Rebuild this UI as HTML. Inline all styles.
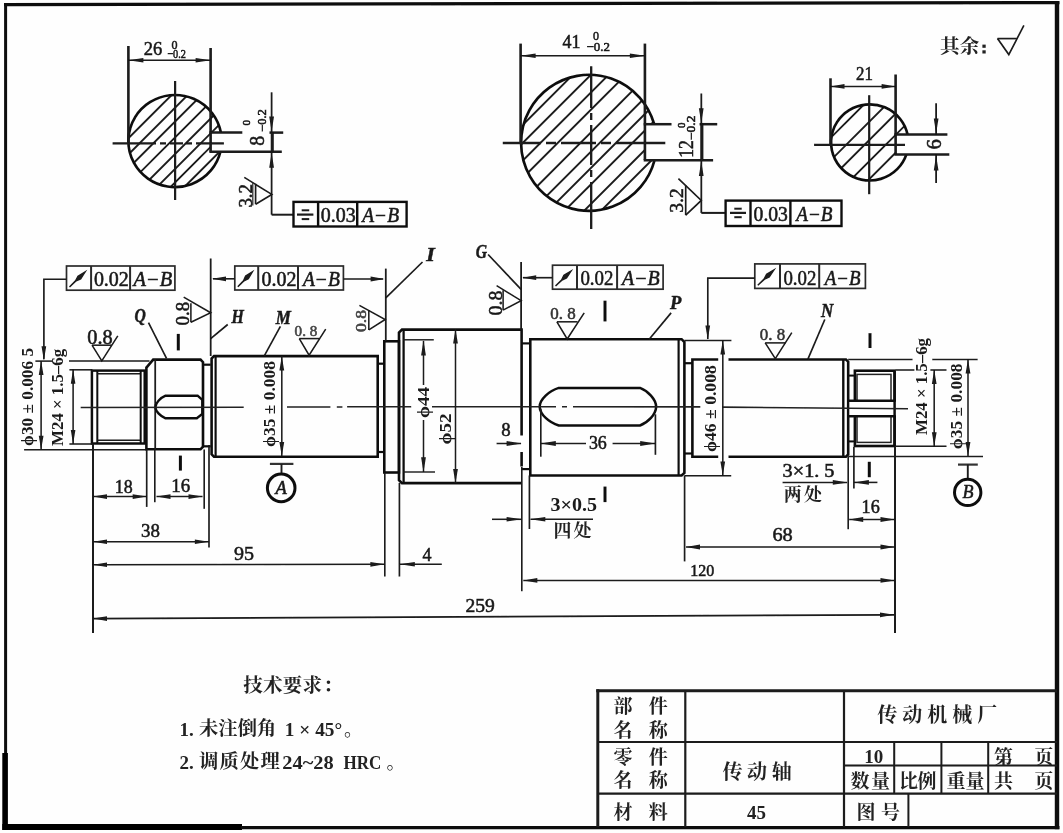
<!DOCTYPE html>
<html><head><meta charset="utf-8"><title>drawing</title>
<style>html,body{margin:0;padding:0;background:#fff;overflow:hidden;}svg{display:block;position:absolute;left:0;top:0;}text{font-family:"Liberation Serif",serif;}text.cj{font-family:"Liberation Serif","Noto Serif CJK SC",serif;font-weight:bold;}</style></head>
<body>
<svg width="1063" height="833" viewBox="0 0 1063 833">
<defs>
<filter id="bl" x="-2%" y="-2%" width="104%" height="104%"><feGaussianBlur stdDeviation="0.55"/></filter>
</defs>
<rect width="1063" height="833" fill="#fefefe"/>
<g id="all" filter="url(#bl)">
<line x1="4.0" y1="4.6" x2="1059.5" y2="2.6" stroke="#111" stroke-width="3.2" />
<line x1="5.6" y1="3.0" x2="5.6" y2="754.0" stroke="#111" stroke-width="3.0" />
<line x1="5.1" y1="753.0" x2="5.1" y2="830.0" stroke="#000" stroke-width="5.6" />
<line x1="2.3" y1="827.0" x2="242.0" y2="827.0" stroke="#000" stroke-width="6" />
<line x1="241.0" y1="827.6" x2="1059.5" y2="827.6" stroke="#111" stroke-width="3.4" />
<line x1="1057.0" y1="1.5" x2="1057.0" y2="829.3" stroke="#111" stroke-width="4.4" />
<line x1="596.3" y1="690.7" x2="1057.0" y2="690.7" stroke="#1c1c1c" stroke-width="3" />
<line x1="597.8" y1="689.2" x2="597.8" y2="827.0" stroke="#1c1c1c" stroke-width="3" />
<line x1="597.8" y1="742.0" x2="1057.0" y2="742.0" stroke="#1c1c1c" stroke-width="2.2" />
<line x1="597.8" y1="793.7" x2="1057.0" y2="793.7" stroke="#1c1c1c" stroke-width="2.2" />
<line x1="844.0" y1="765.5" x2="1057.0" y2="765.5" stroke="#1c1c1c" stroke-width="2" />
<line x1="685.3" y1="690.7" x2="685.3" y2="827.0" stroke="#1c1c1c" stroke-width="2.2" />
<line x1="844.0" y1="690.7" x2="844.0" y2="827.0" stroke="#1c1c1c" stroke-width="2.2" />
<line x1="894.2" y1="742.0" x2="894.2" y2="793.7" stroke="#1c1c1c" stroke-width="2" />
<line x1="941.4" y1="742.0" x2="941.4" y2="793.7" stroke="#1c1c1c" stroke-width="2" />
<line x1="988.2" y1="742.0" x2="988.2" y2="793.7" stroke="#1c1c1c" stroke-width="2" />
<line x1="908.4" y1="793.7" x2="908.4" y2="827.0" stroke="#1c1c1c" stroke-width="2" />
<text class="cj" x="613.5" y="712.62" font-size="19" fill="#222">部</text>
<text class="cj" x="648.8" y="712.62" font-size="19" fill="#222">件</text>
<text class="cj" x="613.5" y="736.62" font-size="19" fill="#222">名</text>
<text class="cj" x="648.8" y="736.62" font-size="19" fill="#222">称</text>
<text class="cj" x="613.5" y="764.02" font-size="19" fill="#222">零</text>
<text class="cj" x="648.8" y="764.02" font-size="19" fill="#222">件</text>
<text class="cj" x="613.5" y="787.42" font-size="19" fill="#222">名</text>
<text class="cj" x="648.8" y="787.42" font-size="19" fill="#222">称</text>
<text class="cj" x="613.5" y="819.22" font-size="19" fill="#222">材</text>
<text class="cj" x="648.8" y="819.22" font-size="19" fill="#222">料</text>
<text class="cj" x="722.5" y="778.5" font-size="20" fill="#222">传</text>
<text class="cj" x="747.1" y="778.5" font-size="20" fill="#222">动</text>
<text class="cj" x="771.7" y="778.5" font-size="20" fill="#222">轴</text>
<text x="756.4" y="818.5" text-anchor="middle" style="font-family:'Liberation Serif',serif;font-size:19px;font-weight:bold;" fill="#222" >45</text>
<text class="cj" x="877.3" y="722" font-size="20" fill="#222">传</text>
<text class="cj" x="902.3" y="722" font-size="20" fill="#222">动</text>
<text class="cj" x="927.3" y="722" font-size="20" fill="#222">机</text>
<text class="cj" x="952.3" y="722" font-size="20" fill="#222">械</text>
<text class="cj" x="977.3" y="722" font-size="20" fill="#222">厂</text>
<text x="873.8" y="763.0" text-anchor="middle" style="font-family:'Liberation Serif',serif;font-size:19px;font-weight:bold;" fill="#222" >10</text>
<text class="cj" x="850.5" y="788.02" font-size="19" fill="#222">数</text>
<text class="cj" x="871" y="788.02" font-size="19" fill="#222">量</text>
<text class="cj" x="899" y="788.02" font-size="19" fill="#222">比</text>
<text class="cj" x="917.6" y="788.02" font-size="19" fill="#222">例</text>
<text class="cj" x="946.5" y="788.02" font-size="19" fill="#222">重</text>
<text class="cj" x="965.6" y="788.02" font-size="19" fill="#222">量</text>
<text class="cj" x="994.1" y="764.02" font-size="19" fill="#222">第</text>
<text class="cj" x="1034.3" y="764.02" font-size="19" fill="#222">页</text>
<text class="cj" x="994.1" y="788.02" font-size="19" fill="#222">共</text>
<text class="cj" x="1034.3" y="788.02" font-size="19" fill="#222">页</text>
<text class="cj" x="856.5" y="819.22" font-size="19" fill="#222">图</text>
<text class="cj" x="880.9" y="819.22" font-size="19" fill="#222">号</text>
<text class="cj" x="243.2" y="692.41" font-size="19.5" fill="#222">技</text>
<text class="cj" x="262.97" y="692.41" font-size="19.5" fill="#222">术</text>
<text class="cj" x="282.73" y="692.41" font-size="19.5" fill="#222">要</text>
<text class="cj" x="302.5" y="692.41" font-size="19.5" fill="#222">求</text>
<text class="cj" x="323.25" y="692.41" font-size="19.5" fill="#222">：</text>
<text x="179.6" y="735.5" text-anchor="start" style="font-family:'Liberation Serif',serif;font-size:19px;font-weight:bold;" fill="#222" >1.</text>
<text class="cj" x="199.1" y="735.33" font-size="19.3" fill="#222">未</text>
<text class="cj" x="218.37" y="735.33" font-size="19.3" fill="#222">注</text>
<text class="cj" x="237.63" y="735.33" font-size="19.3" fill="#222">倒</text>
<text class="cj" x="256.9" y="735.33" font-size="19.3" fill="#222">角</text>
<text x="284.8" y="735.5" text-anchor="start" style="font-family:'Liberation Serif',serif;font-size:19px;font-weight:bold;" fill="#222" textLength="57.4" lengthAdjust="spacingAndGlyphs" >1 × 45°</text>
<text class="cj" x="344" y="735.72" font-size="19" fill="#222">。</text>
<text x="179.6" y="768.5" text-anchor="start" style="font-family:'Liberation Serif',serif;font-size:19px;font-weight:bold;" fill="#222" >2.</text>
<text class="cj" x="199.1" y="768.33" font-size="19.3" fill="#222">调</text>
<text class="cj" x="219.6" y="768.33" font-size="19.3" fill="#222">质</text>
<text class="cj" x="240.1" y="768.33" font-size="19.3" fill="#222">处</text>
<text class="cj" x="260.6" y="768.33" font-size="19.3" fill="#222">理</text>
<text x="282.3" y="768.5" text-anchor="start" style="font-family:'Liberation Serif',serif;font-size:19px;font-weight:bold;" fill="#222" textLength="51.4" lengthAdjust="spacingAndGlyphs" >24~28</text>
<text x="343.5" y="768.5" text-anchor="start" style="font-family:'Liberation Serif',serif;font-size:19px;font-weight:bold;" fill="#222" textLength="37.9" lengthAdjust="spacingAndGlyphs" >HRC</text>
<text class="cj" x="386.5" y="768.72" font-size="19" fill="#222">。</text>
<text class="cj" x="940.05" y="52.61" font-size="19.5" fill="#222">其</text>
<text class="cj" x="959.85" y="52.61" font-size="19.5" fill="#222">余</text>
<rect x="982.4" y="44.6" width="3.3" height="3.2" fill="#222"/><rect x="982.4" y="50.3" width="3.3" height="3.2" fill="#222"/>
<path d="M997.5,38.6 L1008.8,54.6 L1023.9,25.4" fill="none" stroke="#1a1a1a" stroke-width="1.65" stroke-linejoin="miter" />
<line x1="997.5" y1="38.6" x2="1017.1" y2="38.6" stroke="#1a1a1a" stroke-width="1.65" />
<clipPath id="c1"><path d="M220.9,132.6 A46.65,46.05 0 1 0 220.4,151.8 L210.6,151.8 L210.6,132.6 Z"/></clipPath>
<g clip-path="url(#c1)">
<line x1="176.8" y1="89.9" x2="74.8" y2="191.9" stroke="#1a1a1a" stroke-width="1.89" />
<line x1="192.9" y1="89.9" x2="90.9" y2="191.9" stroke="#1a1a1a" stroke-width="1.89" />
<line x1="206.8" y1="89.9" x2="104.7" y2="191.9" stroke="#1a1a1a" stroke-width="1.89" />
<line x1="222.6" y1="89.9" x2="120.6" y2="191.9" stroke="#1a1a1a" stroke-width="1.89" />
<line x1="239.2" y1="89.9" x2="137.2" y2="191.9" stroke="#1a1a1a" stroke-width="1.89" />
<line x1="254.1" y1="89.9" x2="152.1" y2="191.9" stroke="#1a1a1a" stroke-width="1.89" />
<line x1="267.6" y1="89.9" x2="165.6" y2="191.9" stroke="#1a1a1a" stroke-width="1.89" />
<line x1="281.5" y1="89.9" x2="179.4" y2="191.9" stroke="#1a1a1a" stroke-width="1.89" />
</g>
<path d="M220.9,132.6 A46.65,46.05 0 1 0 220.4,151.8" fill="none" stroke="#111" stroke-width="2.7" />
<line x1="128.4" y1="46.0" x2="128.4" y2="142.0" stroke="#1a1a1a" stroke-width="2.6" />
<line x1="210.6" y1="48.0" x2="210.6" y2="151.8" stroke="#1a1a1a" stroke-width="2.6" />
<line x1="128.4" y1="60.2" x2="210.6" y2="60.2" stroke="#1a1a1a" stroke-width="1.53" />
<path d="M128.4,60.2 L143.4,57.9 L143.4,62.6 Z" fill="#1a1a1a"/>
<path d="M210.6,60.2 L195.6,62.6 L195.6,57.9 Z" fill="#1a1a1a"/>
<text x="143.7" y="55.4" text-anchor="start" style="font-family:'Liberation Serif',serif;font-size:19px;" fill="#1a1a1a" textLength="18.5" lengthAdjust="spacingAndGlyphs"  stroke="#1a1a1a" stroke-width="0.55">26</text>
<text x="171.4" y="49.0" text-anchor="start" style="font-family:'Liberation Serif',serif;font-size:12.5px;" fill="#1a1a1a" textLength="6.0" lengthAdjust="spacingAndGlyphs"  stroke="#1a1a1a" stroke-width="0.55">0</text>
<text x="167.3" y="58.4" text-anchor="start" style="font-family:'Liberation Serif',serif;font-size:12.5px;" fill="#1a1a1a" textLength="18.6" lengthAdjust="spacingAndGlyphs"  stroke="#1a1a1a" stroke-width="0.55">−0.2</text>
<path d="M112.6,143.4 H156 M160,143.4 H166 M170,143.4 H183 M186,143.4 H192 M196,143.4 H223.9" stroke="#1a1a1a" stroke-width="2.3" fill="none"/>
<line x1="175.1" y1="81.0" x2="175.1" y2="200.0" stroke="#1a1a1a" stroke-width="2.2" />
<line x1="209.4" y1="132.6" x2="242.3" y2="132.6" stroke="#1a1a1a" stroke-width="2.5" />
<line x1="269.5" y1="132.6" x2="283.2" y2="132.6" stroke="#1a1a1a" stroke-width="2.5" />
<line x1="209.4" y1="151.8" x2="281.8" y2="151.8" stroke="#1a1a1a" stroke-width="2.5" />
<line x1="271.6" y1="92.3" x2="271.6" y2="214.7" stroke="#1a1a1a" stroke-width="1.77" />
<line x1="272.4" y1="132.6" x2="272.4" y2="151.8" stroke="#1a1a1a" stroke-width="2.8" />
<path d="M271.6,131.6 L269.2,116.6 L274.0,116.6 Z" fill="#1a1a1a"/>
<path d="M271.6,152.8 L274.0,167.8 L269.2,167.8 Z" fill="#1a1a1a"/>
<text transform="translate(264.3,140.8) rotate(-90)" text-anchor="middle" style="font-family:'Liberation Serif',serif;font-size:20px;" fill="#1a1a1a"  stroke="#1a1a1a" stroke-width="0.55">8</text>
<text transform="translate(250.4,122.7) rotate(-90)" text-anchor="middle" style="font-family:'Liberation Serif',serif;font-size:11px;" fill="#1a1a1a"  stroke="#1a1a1a" stroke-width="0.55">0</text>
<text transform="translate(266.2,120.5) rotate(-90)" text-anchor="middle" style="font-family:'Liberation Serif',serif;font-size:11.5px;" fill="#1a1a1a" textLength="22.6" lengthAdjust="spacingAndGlyphs"  stroke="#1a1a1a" stroke-width="0.55">−0.2</text>
<path d="M255.6,204.2 L271.8,194.4 L244.3,177.4" fill="none" stroke="#1a1a1a" stroke-width="1.65" stroke-linejoin="miter" />
<line x1="255.6" y1="183.8" x2="255.6" y2="204.2" stroke="#1a1a1a" stroke-width="1.65" />
<line x1="252.8" y1="183.0" x2="252.8" y2="205.5" stroke="#333" stroke-width="1.3" />
<text transform="translate(251.6,195.8) rotate(-90)" text-anchor="middle" style="font-family:'Liberation Serif',serif;font-size:19px;" fill="#1a1a1a" textLength="23.5" lengthAdjust="spacingAndGlyphs"  stroke="#1a1a1a" stroke-width="0.55">3.2</text>
<line x1="271.6" y1="214.7" x2="293.5" y2="214.7" stroke="#1a1a1a" stroke-width="2.0" />
<rect x="293.5" y="201.9" width="113.1" height="24.6" fill="none" stroke="#111" stroke-width="2.4"/>
<line x1="318.1" y1="201.9" x2="318.1" y2="226.5" stroke="#111" stroke-width="2.4" />
<line x1="357.2" y1="201.9" x2="357.2" y2="226.5" stroke="#111" stroke-width="2.4" />
<line x1="297.0" y1="214.6" x2="313.4" y2="214.6" stroke="#1a1a1a" stroke-width="2.2" />
<line x1="301.7" y1="210.3" x2="309.2" y2="210.3" stroke="#1a1a1a" stroke-width="2" />
<line x1="301.7" y1="219.1" x2="309.2" y2="219.1" stroke="#1a1a1a" stroke-width="2" />
<text x="320.8" y="221.7" text-anchor="start" style="font-family:'Liberation Serif',serif;font-size:20px;" fill="#1a1a1a" textLength="34.9" lengthAdjust="spacingAndGlyphs"  stroke="#1a1a1a" stroke-width="0.55">0.03</text>
<text x="362.3" y="221.7" text-anchor="start" style="font-family:'Liberation Serif',serif;font-size:20px;font-style:italic;" fill="#1a1a1a" textLength="36.7" lengthAdjust="spacingAndGlyphs"  stroke="#1a1a1a" stroke-width="0.55">A−B</text>
<clipPath id="c2"><path d="M654.2,124.2 A67.85,68.05 0 1 0 654.6,160.0 L644.9,160.0 L644.9,124.2 Z"/></clipPath>
<g clip-path="url(#c2)">
<line x1="577.9" y1="69.7" x2="431.8" y2="215.8" stroke="#1a1a1a" stroke-width="1.89" />
<line x1="596.0" y1="69.7" x2="449.9" y2="215.8" stroke="#1a1a1a" stroke-width="1.89" />
<line x1="613.7" y1="69.7" x2="467.6" y2="215.8" stroke="#1a1a1a" stroke-width="1.89" />
<line x1="631.0" y1="69.7" x2="484.9" y2="215.8" stroke="#1a1a1a" stroke-width="1.89" />
<line x1="653.6" y1="69.7" x2="507.5" y2="215.8" stroke="#1a1a1a" stroke-width="1.89" />
<line x1="672.9" y1="69.7" x2="526.8" y2="215.8" stroke="#1a1a1a" stroke-width="1.89" />
<line x1="689.2" y1="69.7" x2="543.1" y2="215.8" stroke="#1a1a1a" stroke-width="1.89" />
<line x1="705.6" y1="69.7" x2="559.5" y2="215.8" stroke="#1a1a1a" stroke-width="1.89" />
<line x1="725.2" y1="69.7" x2="579.1" y2="215.8" stroke="#1a1a1a" stroke-width="1.89" />
<line x1="742.1" y1="69.7" x2="596.0" y2="215.8" stroke="#1a1a1a" stroke-width="1.89" />
</g>
<path d="M654.2,124.2 A67.85,68.05 0 1 0 654.6,160.0" fill="none" stroke="#111" stroke-width="2.7" />
<line x1="520.6" y1="43.6" x2="520.6" y2="143.5" stroke="#1a1a1a" stroke-width="2.6" />
<line x1="644.9" y1="43.6" x2="644.9" y2="160.0" stroke="#1a1a1a" stroke-width="2.6" />
<line x1="520.6" y1="55.8" x2="644.9" y2="55.8" stroke="#1a1a1a" stroke-width="1.53" />
<path d="M520.6,55.8 L535.6,53.4 L535.6,58.1 Z" fill="#1a1a1a"/>
<path d="M644.9,55.8 L629.9,58.1 L629.9,53.4 Z" fill="#1a1a1a"/>
<text x="562.6" y="48.3" text-anchor="start" style="font-family:'Liberation Serif',serif;font-size:19px;" fill="#1a1a1a" textLength="17.9" lengthAdjust="spacingAndGlyphs"  stroke="#1a1a1a" stroke-width="0.55">41</text>
<text x="593.0" y="40.3" text-anchor="start" style="font-family:'Liberation Serif',serif;font-size:13px;" fill="#1a1a1a" textLength="6.0" lengthAdjust="spacingAndGlyphs"  stroke="#1a1a1a" stroke-width="0.55">0</text>
<text x="586.6" y="51.2" text-anchor="start" style="font-family:'Liberation Serif',serif;font-size:13px;" fill="#1a1a1a" textLength="23.4" lengthAdjust="spacingAndGlyphs"  stroke="#1a1a1a" stroke-width="0.55">−0.2</text>
<path d="M502.8,143 H541 M546,143 H556 M561,143 H596 M601,143 H611 M616,143 H665.3" stroke="#1a1a1a" stroke-width="2.3" fill="none"/>
<path d="M591.2,66.2 V108 M591.2,113 V120 M591.2,125 V165 M591.2,170 V177 M591.2,182 V229.1" stroke="#1a1a1a" stroke-width="2.3" fill="none"/>
<line x1="643.7" y1="124.2" x2="671.5" y2="124.2" stroke="#1a1a1a" stroke-width="2.5" />
<line x1="699.6" y1="124.2" x2="717.2" y2="124.2" stroke="#1a1a1a" stroke-width="2.5" />
<line x1="643.7" y1="160.3" x2="713.1" y2="160.3" stroke="#1a1a1a" stroke-width="2.5" />
<line x1="701.3" y1="93.5" x2="701.3" y2="212.9" stroke="#1a1a1a" stroke-width="1.77" />
<line x1="702.0" y1="124.2" x2="702.0" y2="160.0" stroke="#1a1a1a" stroke-width="2.8" />
<path d="M701.3,123.2 L698.9,108.2 L703.6,108.2 Z" fill="#1a1a1a"/>
<path d="M701.3,161.0 L703.6,176.0 L698.9,176.0 Z" fill="#1a1a1a"/>
<text transform="translate(693.4,149.0) rotate(-90)" text-anchor="middle" style="font-family:'Liberation Serif',serif;font-size:20px;" fill="#1a1a1a" textLength="17.7" lengthAdjust="spacingAndGlyphs"  stroke="#1a1a1a" stroke-width="0.55">12</text>
<text transform="translate(684.6,125.2) rotate(-90)" text-anchor="middle" style="font-family:'Liberation Serif',serif;font-size:11px;" fill="#1a1a1a"  stroke="#1a1a1a" stroke-width="0.55">0</text>
<text transform="translate(694.6,127.8) rotate(-90)" text-anchor="middle" style="font-family:'Liberation Serif',serif;font-size:11.5px;" fill="#1a1a1a" textLength="24.6" lengthAdjust="spacingAndGlyphs"  stroke="#1a1a1a" stroke-width="0.55">−0.2</text>
<path d="M685.7,215.2 L701.3,200.4 L678.4,178.6" fill="none" stroke="#1a1a1a" stroke-width="1.65" stroke-linejoin="miter" />
<line x1="685.7" y1="185.5" x2="685.7" y2="215.2" stroke="#1a1a1a" stroke-width="1.65" />
<text transform="translate(682.8,200.5) rotate(-90)" text-anchor="middle" style="font-family:'Liberation Serif',serif;font-size:19px;" fill="#1a1a1a" textLength="24.5" lengthAdjust="spacingAndGlyphs"  stroke="#1a1a1a" stroke-width="0.55">3.2</text>
<line x1="701.3" y1="212.9" x2="725.6" y2="212.9" stroke="#1a1a1a" stroke-width="2.0" />
<rect x="725.6" y="200.6" width="115.9" height="25.4" fill="none" stroke="#111" stroke-width="2.4"/>
<line x1="750.5" y1="200.6" x2="750.5" y2="226.0" stroke="#111" stroke-width="2.4" />
<line x1="790.4" y1="200.6" x2="790.4" y2="226.0" stroke="#111" stroke-width="2.4" />
<line x1="730.0" y1="212.9" x2="746.0" y2="212.9" stroke="#1a1a1a" stroke-width="2.2" />
<line x1="734.3" y1="208.7" x2="741.7" y2="208.7" stroke="#1a1a1a" stroke-width="2" />
<line x1="734.3" y1="217.2" x2="741.7" y2="217.2" stroke="#1a1a1a" stroke-width="2" />
<text x="753.6" y="221.2" text-anchor="start" style="font-family:'Liberation Serif',serif;font-size:20px;" fill="#1a1a1a" textLength="34.3" lengthAdjust="spacingAndGlyphs"  stroke="#1a1a1a" stroke-width="0.55">0.03</text>
<text x="796.2" y="221.2" text-anchor="start" style="font-family:'Liberation Serif',serif;font-size:20px;font-style:italic;" fill="#1a1a1a" textLength="36.3" lengthAdjust="spacingAndGlyphs"  stroke="#1a1a1a" stroke-width="0.55">A−B</text>
<clipPath id="c3"><path d="M907.5,134.4 A38.65,38.05 0 1 0 906.4,154.4 L895.6,154.4 L895.6,134.4 Z"/></clipPath>
<g clip-path="url(#c3)">
<line x1="869.2" y1="99.3" x2="783.1" y2="185.4" stroke="#1a1a1a" stroke-width="1.89" />
<line x1="891.7" y1="99.3" x2="805.6" y2="185.4" stroke="#1a1a1a" stroke-width="1.89" />
<line x1="910.0" y1="99.3" x2="823.9" y2="185.4" stroke="#1a1a1a" stroke-width="1.89" />
<line x1="931.2" y1="99.3" x2="845.1" y2="185.4" stroke="#1a1a1a" stroke-width="1.89" />
<line x1="949.1" y1="99.3" x2="863.0" y2="185.4" stroke="#1a1a1a" stroke-width="1.89" />
</g>
<path d="M907.5,134.4 A38.65,38.05 0 1 0 906.4,154.4" fill="none" stroke="#111" stroke-width="2.7" />
<line x1="830.5" y1="78.3" x2="830.5" y2="144.5" stroke="#1a1a1a" stroke-width="2.6" />
<line x1="895.6" y1="74.5" x2="895.6" y2="154.4" stroke="#1a1a1a" stroke-width="2.6" />
<line x1="830.5" y1="86.4" x2="895.6" y2="86.4" stroke="#1a1a1a" stroke-width="1.53" />
<path d="M830.5,86.4 L844.5,84.1 L844.5,88.8 Z" fill="#1a1a1a"/>
<path d="M895.6,86.4 L881.6,88.8 L881.6,84.1 Z" fill="#1a1a1a"/>
<text x="856.0" y="80.2" text-anchor="start" style="font-family:'Liberation Serif',serif;font-size:19px;" fill="#1a1a1a" textLength="16.9" lengthAdjust="spacingAndGlyphs"  stroke="#1a1a1a" stroke-width="0.55">21</text>
<line x1="814.1" y1="144.8" x2="905.0" y2="144.8" stroke="#1a1a1a" stroke-width="2.3" />
<line x1="869.2" y1="95.2" x2="869.2" y2="194.2" stroke="#1a1a1a" stroke-width="2.2" />
<line x1="894.4" y1="134.4" x2="947.4" y2="134.4" stroke="#1a1a1a" stroke-width="2.5" />
<line x1="894.4" y1="154.4" x2="949.3" y2="154.4" stroke="#1a1a1a" stroke-width="2.5" />
<line x1="936.1" y1="103.3" x2="936.1" y2="134.4" stroke="#1a1a1a" stroke-width="1.77" />
<line x1="936.1" y1="154.4" x2="936.1" y2="182.9" stroke="#1a1a1a" stroke-width="1.77" />
<path d="M936.1,133.4 L933.8,118.4 L938.5,118.4 Z" fill="#1a1a1a"/>
<path d="M936.1,155.4 L938.5,170.4 L933.8,170.4 Z" fill="#1a1a1a"/>
<text transform="translate(940.8,144.3) rotate(-90)" text-anchor="middle" style="font-family:'Liberation Serif',serif;font-size:20px;" fill="#1a1a1a"  stroke="#1a1a1a" stroke-width="0.55">6</text>
<rect x="91.9" y="370.6" width="52.8" height="72.9" fill="none" stroke="#111" stroke-width="2.5"/>
<line x1="97.3" y1="370.6" x2="97.3" y2="443.5" stroke="#111" stroke-width="2.0" />
<line x1="97.3" y1="373.8" x2="140.7" y2="373.8" stroke="#1a1a1a" stroke-width="1.53" />
<line x1="97.3" y1="440.2" x2="140.7" y2="440.2" stroke="#1a1a1a" stroke-width="1.53" />
<line x1="140.7" y1="370.6" x2="140.7" y2="443.5" stroke="#111" stroke-width="2.0" />
<path d="M146.4,367.6 L153.2,359.6 L200.5,359.6 L203.0,362.2 L203.0,446.7 L200.5,449.3 L146.4,449.3 Z" fill="none" stroke="#111" stroke-width="2.6" stroke-linejoin="miter" />
<line x1="155.2" y1="359.6" x2="155.2" y2="449.3" stroke="#1a1a1a" stroke-width="1.77" />
<path d="M165.6,395.7 L197.6,395.7 L202.3,399.8 L202.3,414 L196.8,418.3 L165.6,418.3 C160,416 155.6,411 155.3,407.3 C155.6,403 160,398 165.6,395.7 Z" fill="none" stroke="#111" stroke-width="2.4" />
<line x1="203.1" y1="364.7" x2="210.7" y2="364.7" stroke="#111" stroke-width="2.2" />
<line x1="203.1" y1="446.3" x2="210.7" y2="446.3" stroke="#111" stroke-width="2.2" />
<path d="M377.7,356.1 L214.0,356.1 L211.6,358.5 L211.6,454.3 L214.0,456.7 L377.7,456.7 Z" fill="none" stroke="#111" stroke-width="2.6" stroke-linejoin="miter" />
<line x1="215.6" y1="356.1" x2="215.6" y2="456.7" stroke="#111" stroke-width="2.2" />
<line x1="377.7" y1="363.7" x2="384.3" y2="363.7" stroke="#111" stroke-width="2.2" />
<line x1="377.7" y1="452.0" x2="384.3" y2="452.0" stroke="#111" stroke-width="2.2" />
<rect x="384.3" y="341.3" width="14.7" height="131.2" fill="none" stroke="#111" stroke-width="2.6"/>
<path d="M521.6,435.5 L521.6,329.6 L402.0,329.6 L399.0,332.6 L399.0,480.2 L402.0,483.1 L521.6,483.1" fill="none" stroke="#111" stroke-width="2.6" stroke-linejoin="miter" />
<line x1="403.6" y1="329.6" x2="403.6" y2="482.9" stroke="#111" stroke-width="2.3" />
<line x1="521.6" y1="452.0" x2="521.6" y2="466.5" stroke="#111" stroke-width="2.6" />
<line x1="521.6" y1="343.4" x2="530.3" y2="343.4" stroke="#111" stroke-width="2.2" />
<line x1="521.6" y1="469.1" x2="530.3" y2="469.1" stroke="#111" stroke-width="2.2" />
<path d="M530.3,339.2 L681.6,339.2 L684.4,342.0 L684.4,473.0 L681.6,475.5 L530.3,475.5 Z" fill="none" stroke="#111" stroke-width="2.6" stroke-linejoin="miter" />
<line x1="678.6" y1="339.2" x2="678.6" y2="475.5" stroke="#111" stroke-width="2.2" />
<path d="M558.8,387.9 L640,387.9 C648,391 655.8,399 656.2,406.7 C655.8,414.5 648,422.5 640,425.5 L558.8,425.5 C549,422.5 540,414.5 539.6,406.7 C540,399 549,391 558.8,387.9 Z" fill="none" stroke="#111" stroke-width="2.5" />
<line x1="684.4" y1="363.2" x2="692.4" y2="363.2" stroke="#111" stroke-width="2.2" />
<line x1="684.4" y1="453.5" x2="692.4" y2="453.5" stroke="#111" stroke-width="2.2" />
<path d="M718.2,359.5 H692.4 V456.7 H718.2 M728.5,359.5 H846 L848.2,361.7 V454.5 L846,456.7 H728.5" fill="none" stroke="#111" stroke-width="2.6" />
<line x1="843.3" y1="359.5" x2="843.3" y2="456.7" stroke="#111" stroke-width="2.4" />
<rect x="854.9" y="370.7" width="39.7" height="75.3" fill="none" stroke="#111" stroke-width="2.6"/>
<rect x="857" y="374.4" width="34" height="68" fill="none" stroke="#222" stroke-width="1.5"/>
<rect x="849.6" y="400.7" width="46.3" height="15.6" fill="#fefefe" stroke="none"/>
<line x1="848.6" y1="400.7" x2="895.9" y2="400.7" stroke="#111" stroke-width="2.5" />
<line x1="848.6" y1="416.3" x2="895.9" y2="416.3" stroke="#111" stroke-width="2.5" />
<line x1="894.6" y1="370.7" x2="894.6" y2="446.0" stroke="#111" stroke-width="2.5" />
<line x1="848.4" y1="375.6" x2="854.9" y2="375.6" stroke="#111" stroke-width="2" />
<line x1="848.4" y1="441.4" x2="854.9" y2="441.4" stroke="#111" stroke-width="2" />
<path d="M80.7,407.5 L243.7,407.2 M287,407 H330.4 M336.8,407 H342.4 M347.1,406.8 H411.2 M432,406.7 H556 M562,406.7 H567 M573,406.7 L700.3,406.9 M722,407.1 L908,408.8" stroke="#222" stroke-width="1.6" fill="none"/>
<rect x="66.5" y="266.0" width="108.4" height="24.2" fill="none" stroke="#2a2a2a" stroke-width="1.7"/>
<line x1="91.1" y1="266.0" x2="91.1" y2="290.2" stroke="#2a2a2a" stroke-width="2.01" />
<line x1="130.1" y1="266.0" x2="130.1" y2="290.2" stroke="#2a2a2a" stroke-width="2.01" />
<path d="M70.0,287.5 L76.4,281.6 L81.1,279.4 L87.3,269.8 L77.5,275.7 L75.1,280.3 L69.0,286.5 Z" fill="#1a1a1a"/>
<text x="93.9" y="286.4" text-anchor="start" style="font-family:'Liberation Serif',serif;font-size:20px;" fill="#1a1a1a" textLength="34.9" lengthAdjust="spacingAndGlyphs"  stroke="#1a1a1a" stroke-width="0.55">0.02</text>
<text x="133.5" y="286.4" text-anchor="start" style="font-family:'Liberation Serif',serif;font-size:20px;font-style:italic;" fill="#1a1a1a" textLength="38.6" lengthAdjust="spacingAndGlyphs"  stroke="#1a1a1a" stroke-width="0.55">A−B</text>
<rect x="234.8" y="266.0" width="108.6" height="24.0" fill="none" stroke="#2a2a2a" stroke-width="1.7"/>
<line x1="258.2" y1="266.0" x2="258.2" y2="290.0" stroke="#2a2a2a" stroke-width="2.01" />
<line x1="298.0" y1="266.0" x2="298.0" y2="290.0" stroke="#2a2a2a" stroke-width="2.01" />
<path d="M238.3,287.3 L244.3,281.5 L248.8,279.3 L254.4,269.8 L245.1,275.6 L243.0,280.2 L237.3,286.3 Z" fill="#1a1a1a"/>
<text x="261.6" y="286.2" text-anchor="start" style="font-family:'Liberation Serif',serif;font-size:20px;" fill="#1a1a1a" textLength="34.9" lengthAdjust="spacingAndGlyphs"  stroke="#1a1a1a" stroke-width="0.55">0.02</text>
<text x="303.0" y="286.2" text-anchor="start" style="font-family:'Liberation Serif',serif;font-size:20px;font-style:italic;" fill="#1a1a1a" textLength="36.8" lengthAdjust="spacingAndGlyphs"  stroke="#1a1a1a" stroke-width="0.55">A−B</text>
<rect x="552.5" y="265.2" width="110.6" height="24.0" fill="none" stroke="#2a2a2a" stroke-width="1.7"/>
<line x1="577.0" y1="265.2" x2="577.0" y2="289.2" stroke="#2a2a2a" stroke-width="2.01" />
<line x1="617.1" y1="265.2" x2="617.1" y2="289.2" stroke="#2a2a2a" stroke-width="2.01" />
<path d="M556.0,286.5 L562.3,280.7 L567.0,278.5 L573.2,269.0 L563.4,274.8 L561.1,279.4 L555.0,285.5 Z" fill="#1a1a1a"/>
<text x="580.4" y="285.4" text-anchor="start" style="font-family:'Liberation Serif',serif;font-size:20px;" fill="#1a1a1a" textLength="33.0" lengthAdjust="spacingAndGlyphs"  stroke="#1a1a1a" stroke-width="0.55">0.02</text>
<text x="622.0" y="285.4" text-anchor="start" style="font-family:'Liberation Serif',serif;font-size:20px;font-style:italic;" fill="#1a1a1a" textLength="37.7" lengthAdjust="spacingAndGlyphs"  stroke="#1a1a1a" stroke-width="0.55">A−B</text>
<rect x="754.8" y="263.9" width="110.6" height="24.5" fill="none" stroke="#2a2a2a" stroke-width="1.7"/>
<line x1="780.0" y1="263.9" x2="780.0" y2="288.4" stroke="#2a2a2a" stroke-width="2.01" />
<line x1="819.2" y1="263.9" x2="819.2" y2="288.4" stroke="#2a2a2a" stroke-width="2.01" />
<path d="M758.3,285.7 L764.9,279.7 L769.7,277.5 L776.2,267.7 L766.1,273.7 L763.6,278.4 L757.3,284.7 Z" fill="#1a1a1a"/>
<text x="783.4" y="284.6" text-anchor="start" style="font-family:'Liberation Serif',serif;font-size:20px;" fill="#1a1a1a" textLength="32.9" lengthAdjust="spacingAndGlyphs"  stroke="#1a1a1a" stroke-width="0.55">0.02</text>
<text x="824.8" y="284.6" text-anchor="start" style="font-family:'Liberation Serif',serif;font-size:20px;font-style:italic;" fill="#1a1a1a" textLength="35.8" lengthAdjust="spacingAndGlyphs"  stroke="#1a1a1a" stroke-width="0.55">A−B</text>
<path d="M66.5,279.2 L43.9,279.2 L43.9,359.3" fill="none" stroke="#1a1a1a" stroke-width="1.65" stroke-linejoin="miter" />
<path d="M43.9,360.3 L41.5,346.3 L46.2,346.3 Z" fill="#1a1a1a"/>
<line x1="234.8" y1="278.8" x2="213.0" y2="278.8" stroke="#1a1a1a" stroke-width="1.65" />
<path d="M212.0,278.8 L226.0,276.4 L226.0,281.2 Z" fill="#1a1a1a"/>
<line x1="343.4" y1="279.0" x2="383.0" y2="279.0" stroke="#1a1a1a" stroke-width="1.65" />
<path d="M384.6,279.0 L370.6,281.4 L370.6,276.6 Z" fill="#1a1a1a"/>
<line x1="552.5" y1="277.7" x2="523.0" y2="277.7" stroke="#1a1a1a" stroke-width="1.65" />
<path d="M522.2,277.7 L536.2,275.3 L536.2,280.1 Z" fill="#1a1a1a"/>
<path d="M754.8,278.1 L707.8,278.1 L707.8,339.0" fill="none" stroke="#1a1a1a" stroke-width="1.65" stroke-linejoin="miter" />
<path d="M707.8,339.6 L705.4,325.6 L710.1,325.6 Z" fill="#1a1a1a"/>
<line x1="210.7" y1="258.5" x2="210.7" y2="356.0" stroke="#1a1a1a" stroke-width="1.77" />
<line x1="385.8" y1="268.6" x2="385.8" y2="341.0" stroke="#1a1a1a" stroke-width="1.77" />
<line x1="521.1" y1="262.0" x2="521.1" y2="330.0" stroke="#1a1a1a" stroke-width="1.77" />
<text x="134.4" y="322.3" text-anchor="start" style="font-family:'Liberation Serif',serif;font-size:19px;font-style:italic;font-weight:bold;" fill="#1a1a1a" textLength="11.3" lengthAdjust="spacingAndGlyphs" stroke="#1a1a1a" stroke-width="0.5">Q</text>
<line x1="148.5" y1="322.6" x2="166.5" y2="358.4" stroke="#1a1a1a" stroke-width="1.65" />
<text x="231.4" y="322.6" text-anchor="start" style="font-family:'Liberation Serif',serif;font-size:19px;font-style:italic;font-weight:bold;" fill="#1a1a1a" textLength="12.3" lengthAdjust="spacingAndGlyphs" stroke="#1a1a1a" stroke-width="0.5">H</text>
<line x1="227.7" y1="324.5" x2="210.7" y2="338.6" stroke="#1a1a1a" stroke-width="1.65" />
<text x="275.7" y="323.5" text-anchor="start" style="font-family:'Liberation Serif',serif;font-size:19px;font-style:italic;font-weight:bold;" fill="#1a1a1a" textLength="15.1" lengthAdjust="spacingAndGlyphs" stroke="#1a1a1a" stroke-width="0.5">M</text>
<line x1="280.4" y1="326.3" x2="264.4" y2="355.6" stroke="#1a1a1a" stroke-width="1.65" />
<text x="426.3" y="261.1" text-anchor="start" style="font-family:'Liberation Serif',serif;font-size:19px;font-style:italic;font-weight:bold;" fill="#1a1a1a" textLength="8.5" lengthAdjust="spacingAndGlyphs" stroke="#1a1a1a" stroke-width="0.5">I</text>
<line x1="422.5" y1="262.0" x2="385.8" y2="297.9" stroke="#1a1a1a" stroke-width="1.65" />
<text x="475.8" y="258.3" text-anchor="start" style="font-family:'Liberation Serif',serif;font-size:19px;font-style:italic;font-weight:bold;" fill="#1a1a1a" textLength="11.3" lengthAdjust="spacingAndGlyphs" stroke="#1a1a1a" stroke-width="0.5">G</text>
<line x1="488.1" y1="254.5" x2="521.1" y2="289.4" stroke="#1a1a1a" stroke-width="1.65" />
<text x="670.1" y="309.2" text-anchor="start" style="font-family:'Liberation Serif',serif;font-size:19px;font-style:italic;font-weight:bold;" fill="#1a1a1a" textLength="11.3" lengthAdjust="spacingAndGlyphs" stroke="#1a1a1a" stroke-width="0.5">P</text>
<line x1="671.1" y1="312.9" x2="649.4" y2="339.0" stroke="#1a1a1a" stroke-width="1.65" />
<text x="821.0" y="316.7" text-anchor="start" style="font-family:'Liberation Serif',serif;font-size:19px;font-style:italic;font-weight:bold;" fill="#1a1a1a" textLength="12.3" lengthAdjust="spacingAndGlyphs" stroke="#1a1a1a" stroke-width="0.5">N</text>
<line x1="824.8" y1="319.5" x2="807.9" y2="359.1" stroke="#1a1a1a" stroke-width="1.65" />
<path d="M92.0,345.2 L101.8,360.8 L117.8,335.8" fill="none" stroke="#1a1a1a" stroke-width="1.53" stroke-linejoin="miter" />
<line x1="92.0" y1="345.2" x2="111.8" y2="345.2" stroke="#1a1a1a" stroke-width="1.53" />
<text x="87.3" y="343.9" text-anchor="start" style="font-family:'Liberation Serif',serif;font-size:20px;" fill="#1a1a1a" textLength="25.4" lengthAdjust="spacingAndGlyphs"  stroke="#1a1a1a" stroke-width="0.55">0.8</text>
<path d="M299.3,338.6 L309.1,355.2 L325.7,329.2" fill="none" stroke="#1a1a1a" stroke-width="1.53" stroke-linejoin="miter" />
<line x1="299.3" y1="338.6" x2="319.1" y2="338.6" stroke="#1a1a1a" stroke-width="1.53" />
<text x="294.6" y="336.0" text-anchor="start" style="font-family:'Liberation Serif',serif;font-size:14px;" fill="#444" textLength="22.6" lengthAdjust="spacingAndGlyphs"  stroke="#444" stroke-width="0.55">0. 8</text>
<path d="M556.9,321.8 L567.2,339.0 L584.2,312.9" fill="none" stroke="#1a1a1a" stroke-width="1.53" stroke-linejoin="miter" />
<line x1="556.9" y1="321.8" x2="577.6" y2="321.8" stroke="#1a1a1a" stroke-width="1.53" />
<text x="550.3" y="319.0" text-anchor="start" style="font-family:'Liberation Serif',serif;font-size:17px;" fill="#333" textLength="25.4" lengthAdjust="spacingAndGlyphs"  stroke="#333" stroke-width="0.55">0. 8</text>
<path d="M765.2,342.9 L775.3,358.7 L791.8,332.7" fill="none" stroke="#1a1a1a" stroke-width="1.53" stroke-linejoin="miter" />
<line x1="765.2" y1="342.9" x2="785.6" y2="342.9" stroke="#1a1a1a" stroke-width="1.53" />
<text x="759.8" y="339.6" text-anchor="start" style="font-family:'Liberation Serif',serif;font-size:17px;" fill="#333" textLength="25.4" lengthAdjust="spacingAndGlyphs"  stroke="#333" stroke-width="0.55">0. 8</text>
<path d="M190.9,322.2 L210.7,312.8 L183.7,297.1" fill="none" stroke="#1a1a1a" stroke-width="1.53" stroke-linejoin="miter" />
<line x1="190.9" y1="303.3" x2="190.9" y2="322.2" stroke="#1a1a1a" stroke-width="1.53" />
<text transform="translate(189.2,313.6) rotate(-90)" text-anchor="middle" style="font-family:'Liberation Serif',serif;font-size:19px;" fill="#1a1a1a" textLength="23.6" lengthAdjust="spacingAndGlyphs"  stroke="#1a1a1a" stroke-width="0.55">0.8</text>
<path d="M368.8,329.9 L385.2,319.5 L359.4,305.4" fill="none" stroke="#1a1a1a" stroke-width="1.53" stroke-linejoin="miter" />
<line x1="368.8" y1="310.1" x2="368.8" y2="329.9" stroke="#1a1a1a" stroke-width="1.53" />
<text transform="translate(366.0,321.0) rotate(-90)" text-anchor="middle" style="font-family:'Liberation Serif',serif;font-size:14px;" fill="#444" textLength="22.0" lengthAdjust="spacingAndGlyphs"  stroke="#444" stroke-width="0.55">0.8</text>
<path d="M503.1,310.1 L521.1,300.7 L496.6,285.6" fill="none" stroke="#1a1a1a" stroke-width="1.53" stroke-linejoin="miter" />
<line x1="503.1" y1="290.3" x2="503.1" y2="310.1" stroke="#1a1a1a" stroke-width="1.53" />
<text transform="translate(502.0,303.0) rotate(-90)" text-anchor="middle" style="font-family:'Liberation Serif',serif;font-size:19px;" fill="#1a1a1a" textLength="25.0" lengthAdjust="spacingAndGlyphs"  stroke="#1a1a1a" stroke-width="0.55">0.8</text>
<line x1="178.3" y1="333.9" x2="178.3" y2="350.4" stroke="#111" stroke-width="3.0" />
<line x1="180.4" y1="455.6" x2="180.4" y2="470.6" stroke="#111" stroke-width="3.0" />
<line x1="605.0" y1="300.7" x2="605.0" y2="321.4" stroke="#111" stroke-width="3.0" />
<line x1="605.0" y1="486.6" x2="605.0" y2="502.1" stroke="#111" stroke-width="3.0" />
<line x1="870.0" y1="333.2" x2="870.0" y2="348.0" stroke="#111" stroke-width="3.0" />
<line x1="869.3" y1="461.8" x2="869.3" y2="477.2" stroke="#111" stroke-width="3.0" />
<line x1="35.4" y1="361.1" x2="52.5" y2="361.1" stroke="#1a1a1a" stroke-width="1.53" />
<line x1="69.0" y1="361.1" x2="149.5" y2="361.1" stroke="#1a1a1a" stroke-width="1.53" />
<line x1="24.1" y1="449.7" x2="146.7" y2="449.7" stroke="#1a1a1a" stroke-width="1.53" />
<line x1="41.1" y1="361.1" x2="41.1" y2="449.7" stroke="#1a1a1a" stroke-width="1.53" />
<path d="M41.1,361.1 L43.5,375.1 L38.8,375.1 Z" fill="#1a1a1a"/>
<path d="M41.1,449.7 L38.8,435.7 L43.5,435.7 Z" fill="#1a1a1a"/>
<text transform="translate(33.4,396.9) rotate(-90)" text-anchor="middle" style="font-family:'Liberation Serif',serif;font-size:17px;font-weight:bold;" fill="#1a1a1a" textLength="98.0" lengthAdjust="spacingAndGlyphs" >ϕ30 ± 0.006 5</text>
<line x1="69.4" y1="369.8" x2="92.4" y2="369.8" stroke="#1a1a1a" stroke-width="1.53" />
<line x1="69.4" y1="444.0" x2="92.4" y2="444.0" stroke="#1a1a1a" stroke-width="1.53" />
<line x1="73.1" y1="369.8" x2="73.1" y2="444.0" stroke="#1a1a1a" stroke-width="1.53" />
<path d="M73.1,369.8 L75.4,383.8 L70.8,383.8 Z" fill="#1a1a1a"/>
<path d="M73.1,444.0 L70.8,430.0 L75.4,430.0 Z" fill="#1a1a1a"/>
<text transform="translate(63.3,397.4) rotate(-90)" text-anchor="middle" style="font-family:'Liberation Serif',serif;font-size:17px;font-weight:bold;" fill="#1a1a1a" textLength="97.0" lengthAdjust="spacingAndGlyphs" >M24 × 1.5–6g</text>
<line x1="281.8" y1="356.4" x2="281.8" y2="455.9" stroke="#1a1a1a" stroke-width="1.53" />
<path d="M281.8,356.4 L284.2,370.4 L279.4,370.4 Z" fill="#1a1a1a"/>
<path d="M281.8,455.9 L279.4,441.9 L284.2,441.9 Z" fill="#1a1a1a"/>
<text transform="translate(275.1,404.0) rotate(-90)" text-anchor="middle" style="font-family:'Liberation Serif',serif;font-size:17px;font-weight:bold;" fill="#1a1a1a" textLength="85.8" lengthAdjust="spacingAndGlyphs" >ϕ35 ± 0.008</text>
<line x1="403.4" y1="339.8" x2="433.8" y2="339.8" stroke="#1a1a1a" stroke-width="1.42" />
<line x1="403.4" y1="472.0" x2="435.0" y2="472.0" stroke="#1a1a1a" stroke-width="1.42" />
<line x1="423.5" y1="340.9" x2="423.5" y2="385.0" stroke="#1a1a1a" stroke-width="1.53" />
<line x1="423.5" y1="420.0" x2="423.5" y2="472.0" stroke="#1a1a1a" stroke-width="1.53" />
<path d="M423.5,340.4 L425.9,355.4 L421.1,355.4 Z" fill="#1a1a1a"/>
<path d="M423.5,472.3 L421.1,457.3 L425.9,457.3 Z" fill="#1a1a1a"/>
<text transform="translate(428.6,402.5) rotate(-90)" text-anchor="middle" style="font-family:'Liberation Serif',serif;font-size:17px;font-weight:bold;" fill="#1a1a1a" textLength="31.0" lengthAdjust="spacingAndGlyphs" >ϕ44</text>
<line x1="455.5" y1="329.6" x2="455.5" y2="482.9" stroke="#1a1a1a" stroke-width="1.53" />
<path d="M455.5,329.6 L457.9,343.6 L453.1,343.6 Z" fill="#1a1a1a"/>
<path d="M455.5,482.9 L453.1,468.9 L457.9,468.9 Z" fill="#1a1a1a"/>
<text transform="translate(450.6,428.9) rotate(-90)" text-anchor="middle" style="font-family:'Liberation Serif',serif;font-size:17px;font-weight:bold;" fill="#1a1a1a" textLength="31.0" lengthAdjust="spacingAndGlyphs" >ϕ52</text>
<line x1="684.4" y1="340.4" x2="731.4" y2="340.4" stroke="#1a1a1a" stroke-width="1.53" />
<line x1="684.6" y1="475.7" x2="731.2" y2="475.7" stroke="#1a1a1a" stroke-width="1.53" />
<line x1="722.8" y1="340.4" x2="722.8" y2="475.5" stroke="#1a1a1a" stroke-width="1.53" />
<path d="M722.8,340.4 L725.1,354.4 L720.4,354.4 Z" fill="#1a1a1a"/>
<path d="M722.8,475.5 L720.4,461.5 L725.1,461.5 Z" fill="#1a1a1a"/>
<text transform="translate(716.2,408.6) rotate(-90)" text-anchor="middle" style="font-family:'Liberation Serif',serif;font-size:17px;font-weight:bold;" fill="#1a1a1a" textLength="86.8" lengthAdjust="spacingAndGlyphs" >ϕ46 ± 0.008</text>
<line x1="895.6" y1="370.0" x2="914.4" y2="370.0" stroke="#1a1a1a" stroke-width="1.53" />
<line x1="930.4" y1="370.0" x2="946.5" y2="370.0" stroke="#1a1a1a" stroke-width="1.53" />
<line x1="895.6" y1="446.3" x2="946.5" y2="446.3" stroke="#1a1a1a" stroke-width="1.53" />
<line x1="934.2" y1="370.0" x2="934.2" y2="446.3" stroke="#1a1a1a" stroke-width="1.53" />
<path d="M934.2,370.0 L936.6,384.0 L931.9,384.0 Z" fill="#1a1a1a"/>
<path d="M934.2,446.3 L931.9,432.3 L936.6,432.3 Z" fill="#1a1a1a"/>
<text transform="translate(926.8,386.5) rotate(-90)" text-anchor="middle" style="font-family:'Liberation Serif',serif;font-size:17px;font-weight:bold;" fill="#1a1a1a" textLength="97.0" lengthAdjust="spacingAndGlyphs" >M24 × 1.5–6g</text>
<line x1="848.2" y1="359.6" x2="912.5" y2="359.6" stroke="#1a1a1a" stroke-width="1.53" />
<line x1="932.3" y1="359.6" x2="977.6" y2="359.6" stroke="#1a1a1a" stroke-width="1.53" />
<line x1="848.2" y1="456.5" x2="983.0" y2="456.5" stroke="#1a1a1a" stroke-width="1.53" />
<line x1="968.0" y1="359.6" x2="968.0" y2="456.1" stroke="#1a1a1a" stroke-width="1.53" />
<path d="M968.0,359.6 L970.4,373.6 L965.6,373.6 Z" fill="#1a1a1a"/>
<path d="M968.0,456.1 L965.6,442.1 L970.4,442.1 Z" fill="#1a1a1a"/>
<text transform="translate(962.3,406.3) rotate(-90)" text-anchor="middle" style="font-family:'Liberation Serif',serif;font-size:17px;font-weight:bold;" fill="#1a1a1a" textLength="85.7" lengthAdjust="spacingAndGlyphs" >ϕ35 ± 0.008</text>
<line x1="93.0" y1="444.0" x2="93.0" y2="633.0" stroke="#1a1a1a" stroke-width="2.01" />
<line x1="895.0" y1="447.0" x2="895.0" y2="633.0" stroke="#1a1a1a" stroke-width="2.01" />
<line x1="146.7" y1="449.5" x2="146.7" y2="506.9" stroke="#1a1a1a" stroke-width="1.65" />
<line x1="154.8" y1="449.5" x2="154.8" y2="502.2" stroke="#1a1a1a" stroke-width="1.65" />
<line x1="204.2" y1="449.5" x2="204.2" y2="508.8" stroke="#1a1a1a" stroke-width="1.65" />
<line x1="209.0" y1="445.0" x2="209.0" y2="547.4" stroke="#1a1a1a" stroke-width="1.65" />
<line x1="384.8" y1="473.0" x2="384.8" y2="576.5" stroke="#1a1a1a" stroke-width="1.65" />
<line x1="399.4" y1="482.9" x2="399.4" y2="576.5" stroke="#1a1a1a" stroke-width="1.65" />
<line x1="521.8" y1="467.0" x2="521.8" y2="591.2" stroke="#1a1a1a" stroke-width="1.65" />
<line x1="529.4" y1="475.5" x2="529.4" y2="529.0" stroke="#1a1a1a" stroke-width="1.65" />
<line x1="540.8" y1="408.6" x2="540.8" y2="456.7" stroke="#1a1a1a" stroke-width="1.65" />
<line x1="655.4" y1="414.3" x2="655.4" y2="454.8" stroke="#1a1a1a" stroke-width="1.65" />
<line x1="684.6" y1="475.5" x2="684.6" y2="561.4" stroke="#1a1a1a" stroke-width="1.65" />
<line x1="848.2" y1="456.7" x2="848.2" y2="529.2" stroke="#1a1a1a" stroke-width="1.65" />
<line x1="853.9" y1="447.0" x2="853.9" y2="488.5" stroke="#1a1a1a" stroke-width="1.65" />
<line x1="93.0" y1="496.6" x2="146.7" y2="496.6" stroke="#1a1a1a" stroke-width="1.53" />
<path d="M93.0,496.6 L107.0,494.2 L107.0,499.0 Z" fill="#1a1a1a"/>
<path d="M146.7,496.6 L132.7,499.0 L132.7,494.2 Z" fill="#1a1a1a"/>
<text x="114.7" y="492.8" text-anchor="start" style="font-family:'Liberation Serif',serif;font-size:19px;" fill="#1a1a1a" textLength="17.9" lengthAdjust="spacingAndGlyphs"  stroke="#1a1a1a" stroke-width="0.55">18</text>
<line x1="156.5" y1="496.6" x2="202.5" y2="496.6" stroke="#1a1a1a" stroke-width="1.53" />
<path d="M156.5,496.6 L170.5,494.2 L170.5,499.0 Z" fill="#1a1a1a"/>
<path d="M202.5,496.6 L188.5,499.0 L188.5,494.2 Z" fill="#1a1a1a"/>
<text x="171.2" y="491.8" text-anchor="start" style="font-family:'Liberation Serif',serif;font-size:19px;" fill="#1a1a1a" textLength="18.9" lengthAdjust="spacingAndGlyphs"  stroke="#1a1a1a" stroke-width="0.55">16</text>
<line x1="93.0" y1="541.8" x2="208.9" y2="541.8" stroke="#1a1a1a" stroke-width="1.53" />
<path d="M93.0,541.8 L107.0,539.4 L107.0,544.1 Z" fill="#1a1a1a"/>
<path d="M208.9,541.8 L194.9,544.1 L194.9,539.4 Z" fill="#1a1a1a"/>
<text x="141.0" y="537.1" text-anchor="start" style="font-family:'Liberation Serif',serif;font-size:19px;" fill="#1a1a1a" textLength="18.9" lengthAdjust="spacingAndGlyphs"  stroke="#1a1a1a" stroke-width="0.55">38</text>
<line x1="93.0" y1="564.8" x2="384.4" y2="564.3" stroke="#1a1a1a" stroke-width="1.53" />
<path d="M93.0,564.8 L107.0,562.4 L107.0,567.1 Z" fill="#1a1a1a"/>
<path d="M384.4,564.3 L370.4,566.7 L370.4,562.0 Z" fill="#1a1a1a"/>
<text x="233.9" y="560.4" text-anchor="start" style="font-family:'Liberation Serif',serif;font-size:19px;" fill="#1a1a1a" textLength="20.0" lengthAdjust="spacingAndGlyphs"  stroke="#1a1a1a" stroke-width="0.55">95</text>
<line x1="399.5" y1="564.2" x2="441.8" y2="564.2" stroke="#1a1a1a" stroke-width="1.53" />
<path d="M399.8,564.2 L414.8,561.9 L414.8,566.6 Z" fill="#1a1a1a"/>
<text x="422.6" y="560.8" text-anchor="start" style="font-family:'Liberation Serif',serif;font-size:19px;" fill="#1a1a1a" textLength="9.0" lengthAdjust="spacingAndGlyphs"  stroke="#1a1a1a" stroke-width="0.55">4</text>
<line x1="93.0" y1="618.6" x2="894.0" y2="614.8" stroke="#1a1a1a" stroke-width="1.65" />
<path d="M93.0,618.6 L107.0,616.2 L107.0,620.9 Z" fill="#1a1a1a"/>
<path d="M894.0,614.8 L880.0,617.2 L880.0,612.5 Z" fill="#1a1a1a"/>
<text x="465.5" y="611.6" text-anchor="start" style="font-family:'Liberation Serif',serif;font-size:19px;" fill="#1a1a1a" textLength="29.3" lengthAdjust="spacingAndGlyphs"  stroke="#1a1a1a" stroke-width="0.55">259</text>
<line x1="523.3" y1="580.4" x2="894.5" y2="580.4" stroke="#1a1a1a" stroke-width="1.53" />
<path d="M523.3,580.4 L537.3,578.0 L537.3,582.8 Z" fill="#1a1a1a"/>
<path d="M894.5,580.4 L880.5,582.8 L880.5,578.0 Z" fill="#1a1a1a"/>
<text x="690.3" y="576.0" text-anchor="start" style="font-family:'Liberation Serif',serif;font-size:16px;" fill="#1a1a1a" textLength="24.0" lengthAdjust="spacingAndGlyphs"  stroke="#1a1a1a" stroke-width="0.55">120</text>
<line x1="686.0" y1="547.0" x2="894.5" y2="547.0" stroke="#1a1a1a" stroke-width="1.53" />
<path d="M686.0,547.0 L700.0,544.6 L700.0,549.4 Z" fill="#1a1a1a"/>
<path d="M894.5,547.0 L880.5,549.4 L880.5,544.6 Z" fill="#1a1a1a"/>
<text x="772.4" y="540.5" text-anchor="start" style="font-family:'Liberation Serif',serif;font-size:19px;" fill="#1a1a1a" textLength="20.3" lengthAdjust="spacingAndGlyphs"  stroke="#1a1a1a" stroke-width="0.55">68</text>
<line x1="849.2" y1="519.5" x2="894.5" y2="519.5" stroke="#1a1a1a" stroke-width="1.53" />
<path d="M849.2,519.5 L863.2,517.1 L863.2,521.9 Z" fill="#1a1a1a"/>
<path d="M894.5,519.5 L880.5,521.9 L880.5,517.1 Z" fill="#1a1a1a"/>
<text x="861.6" y="513.4" text-anchor="start" style="font-family:'Liberation Serif',serif;font-size:19px;" fill="#1a1a1a" textLength="18.1" lengthAdjust="spacingAndGlyphs"  stroke="#1a1a1a" stroke-width="0.55">16</text>
<line x1="496.6" y1="443.5" x2="521.0" y2="443.5" stroke="#1a1a1a" stroke-width="1.53" />
<path d="M521.6,443.5 L506.6,445.9 L506.6,441.1 Z" fill="#1a1a1a"/>
<text x="501.3" y="435.9" text-anchor="start" style="font-family:'Liberation Serif',serif;font-size:19px;" fill="#1a1a1a" textLength="9.4" lengthAdjust="spacingAndGlyphs"  stroke="#1a1a1a" stroke-width="0.55">8</text>
<line x1="541.0" y1="443.5" x2="586.0" y2="443.5" stroke="#1a1a1a" stroke-width="1.53" />
<path d="M540.8,443.5 L555.8,441.1 L555.8,445.9 Z" fill="#1a1a1a"/>
<text x="588.9" y="448.6" text-anchor="start" style="font-family:'Liberation Serif',serif;font-size:19px;" fill="#1a1a1a" textLength="17.9" lengthAdjust="spacingAndGlyphs"  stroke="#1a1a1a" stroke-width="0.55">36</text>
<line x1="612.6" y1="443.5" x2="655.0" y2="443.5" stroke="#1a1a1a" stroke-width="1.53" />
<path d="M655.2,443.5 L640.2,445.9 L640.2,441.1 Z" fill="#1a1a1a"/>
<line x1="492.0" y1="519.3" x2="521.0" y2="519.3" stroke="#1a1a1a" stroke-width="1.53" />
<path d="M521.6,519.3 L506.6,521.6 L506.6,516.9 Z" fill="#1a1a1a"/>
<line x1="530.5" y1="519.3" x2="593.0" y2="519.3" stroke="#1a1a1a" stroke-width="1.53" />
<path d="M530.3,519.3 L545.3,516.9 L545.3,521.6 Z" fill="#1a1a1a"/>
<text x="550.6" y="510.6" text-anchor="start" style="font-family:'Liberation Serif',serif;font-size:18px;font-weight:bold;" fill="#1a1a1a" textLength="46.5" lengthAdjust="spacingAndGlyphs" >3×0.5</text>
<text class="cj" x="553.4" y="537.34" font-size="18" fill="#222">四</text>
<text class="cj" x="573.5" y="537.34" font-size="18" fill="#222">处</text>
<line x1="782.6" y1="482.4" x2="847.0" y2="482.4" stroke="#1a1a1a" stroke-width="1.53" />
<path d="M847.8,482.4 L832.8,484.8 L832.8,480.0 Z" fill="#1a1a1a"/>
<line x1="854.0" y1="482.4" x2="877.4" y2="482.4" stroke="#1a1a1a" stroke-width="1.53" />
<path d="M853.9,482.4 L868.9,480.0 L868.9,484.8 Z" fill="#1a1a1a"/>
<text x="782.6" y="477.3" text-anchor="start" style="font-family:'Liberation Serif',serif;font-size:18px;" fill="#1a1a1a" textLength="51.9" lengthAdjust="spacingAndGlyphs"  stroke="#1a1a1a" stroke-width="0.55">3×1. 5</text>
<text class="cj" x="783.7" y="500.64" font-size="18" fill="#222">两</text>
<text class="cj" x="804.1" y="500.64" font-size="18" fill="#222">处</text>
<line x1="269.9" y1="463.9" x2="293.4" y2="463.9" stroke="#333" stroke-width="2.2" />
<line x1="281.5" y1="463.9" x2="281.5" y2="474.0" stroke="#1a1a1a" stroke-width="1.89" />
<circle cx="281.2" cy="487.9" r="13.8" fill="none" stroke="#111" stroke-width="3"/>
<text x="275.4" y="493.5" text-anchor="start" style="font-family:'Liberation Serif',serif;font-size:18px;font-style:italic;" fill="#1a1a1a" textLength="11.3" lengthAdjust="spacingAndGlyphs"  stroke="#1a1a1a" stroke-width="0.55">A</text>
<line x1="958.0" y1="464.6" x2="977.8" y2="464.6" stroke="#333" stroke-width="2.2" />
<line x1="967.8" y1="464.6" x2="967.8" y2="479.0" stroke="#1a1a1a" stroke-width="1.89" />
<circle cx="967.7" cy="492.4" r="13.2" fill="none" stroke="#111" stroke-width="3"/>
<text x="962.5" y="498.0" text-anchor="start" style="font-family:'Liberation Serif',serif;font-size:18px;font-style:italic;" fill="#1a1a1a" textLength="11.0" lengthAdjust="spacingAndGlyphs"  stroke="#1a1a1a" stroke-width="0.55">B</text>
</g>
</svg>
</body></html>
